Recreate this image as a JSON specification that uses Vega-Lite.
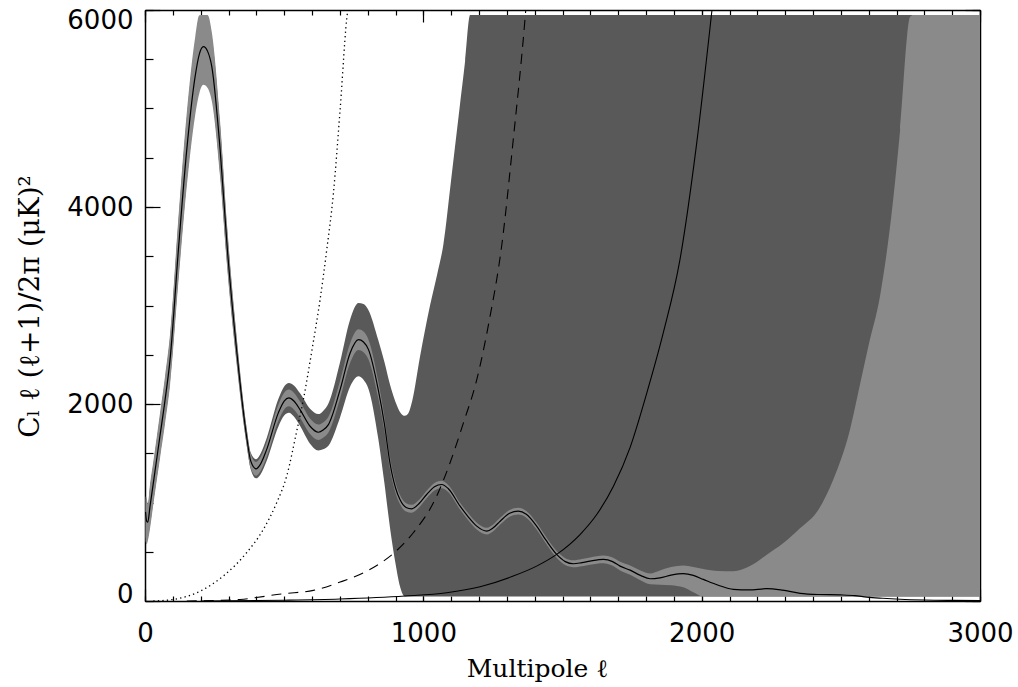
{
  "$schema": "https://vega.github.io/schema/vega-lite/v6.json",
  "autosize": {"type": "none"},
  "width": 835,
  "height": 591,
  "padding": {"left": 145, "top": 10, "right": 38, "bottom": 86},
  "background": "white",
  "config": {
    "view": {"stroke": null},
    "axis": {
      "grid": false,
      "domainColor": "black",
      "domainWidth": 1.5,
      "tickColor": "black",
      "tickWidth": 1.2,
      "labelFont": "DejaVu Sans",
      "labelFontSize": 26,
      "labelColor": "black",
      "labelFlush": false,
      "titleFont": "DejaVu Serif",
      "titleFontSize": 25,
      "titleFontWeight": "normal",
      "titleColor": "black"
    }
  },
  "datasets": {
    "cl": [
      {"l": 2, "c": 905}, {"l": 6, "c": 810}, {"l": 10, "c": 800}, {"l": 18, "c": 960},
      {"l": 30, "c": 1200}, {"l": 54, "c": 1680}, {"l": 72, "c": 2040}, {"l": 90, "c": 2450},
      {"l": 120, "c": 3566}, {"l": 150, "c": 4580}, {"l": 180, "c": 5323}, {"l": 195, "c": 5550},
      {"l": 210, "c": 5628}, {"l": 225, "c": 5580}, {"l": 240, "c": 5425}, {"l": 270, "c": 4580},
      {"l": 296, "c": 3566}, {"l": 329, "c": 2552}, {"l": 365, "c": 1672}, {"l": 380, "c": 1420},
      {"l": 399, "c": 1342}, {"l": 415, "c": 1390}, {"l": 437, "c": 1537}, {"l": 479, "c": 1910},
      {"l": 500, "c": 2030}, {"l": 517, "c": 2062}, {"l": 535, "c": 2030}, {"l": 557, "c": 1943},
      {"l": 593, "c": 1774}, {"l": 623, "c": 1713}, {"l": 640, "c": 1735}, {"l": 659, "c": 1791},
      {"l": 701, "c": 2146}, {"l": 737, "c": 2518}, {"l": 767, "c": 2653}, {"l": 785, "c": 2630},
      {"l": 803, "c": 2552}, {"l": 838, "c": 2146}, {"l": 860, "c": 1800}, {"l": 880, "c": 1403},
      {"l": 900, "c": 1150}, {"l": 916, "c": 1030}, {"l": 938, "c": 950}, {"l": 958, "c": 936},
      {"l": 985, "c": 990}, {"l": 1012, "c": 1081}, {"l": 1040, "c": 1160}, {"l": 1066, "c": 1183},
      {"l": 1090, "c": 1140}, {"l": 1132, "c": 963}, {"l": 1160, "c": 860}, {"l": 1192, "c": 760},
      {"l": 1228, "c": 709}, {"l": 1250, "c": 740}, {"l": 1276, "c": 810}, {"l": 1310, "c": 890},
      {"l": 1341, "c": 912}, {"l": 1370, "c": 880}, {"l": 1407, "c": 760}, {"l": 1440, "c": 620},
      {"l": 1479, "c": 473}, {"l": 1510, "c": 400}, {"l": 1539, "c": 378}, {"l": 1570, "c": 390},
      {"l": 1599, "c": 405}, {"l": 1647, "c": 422}, {"l": 1680, "c": 400}, {"l": 1707, "c": 354},
      {"l": 1743, "c": 313}, {"l": 1780, "c": 260}, {"l": 1815, "c": 226}, {"l": 1850, "c": 235},
      {"l": 1890, "c": 262}, {"l": 1934, "c": 277}, {"l": 1970, "c": 260}, {"l": 2006, "c": 219},
      {"l": 2060, "c": 160}, {"l": 2114, "c": 118}, {"l": 2170, "c": 112}, {"l": 2234, "c": 125},
      {"l": 2290, "c": 110}, {"l": 2354, "c": 78}, {"l": 2420, "c": 66}, {"l": 2497, "c": 62},
      {"l": 2550, "c": 55}, {"l": 2593, "c": 40}, {"l": 2650, "c": 28}, {"l": 2713, "c": 18},
      {"l": 2800, "c": 10}, {"l": 2900, "c": 6}, {"l": 3000, "c": 4}
    ],
    "light": [
      {"l": 2, "lo": 610, "hi": 1060}, {"l": 6, "lo": 575, "hi": 1045}, {"l": 10, "lo": 610, "hi": 990},
      {"l": 18, "lo": 736, "hi": 1184}, {"l": 30, "lo": 983, "hi": 1417}, {"l": 54, "lo": 1452, "hi": 1908},
      {"l": 72, "lo": 1801, "hi": 2279}, {"l": 90, "lo": 2193, "hi": 2707}, {"l": 120, "lo": 3241, "hi": 3891},
      {"l": 150, "lo": 4207, "hi": 4953}, {"l": 180, "lo": 4927, "hi": 5719}, {"l": 195, "lo": 5153, "hi": 5947},
      {"l": 210, "lo": 5240, "hi": 5950}, {"l": 225, "lo": 5208, "hi": 5950}, {"l": 240, "lo": 5075, "hi": 5775},
      {"l": 270, "lo": 4301, "hi": 4859}, {"l": 296, "lo": 3359, "hi": 3773}, {"l": 329, "lo": 2412, "hi": 2692},
      {"l": 365, "lo": 1585, "hi": 1759}, {"l": 380, "lo": 1347, "hi": 1493}, {"l": 399, "lo": 1272, "hi": 1412},
      {"l": 415, "lo": 1320, "hi": 1460}, {"l": 437, "lo": 1462, "hi": 1612}, {"l": 479, "lo": 1828, "hi": 1992},
      {"l": 500, "lo": 1945, "hi": 2115}, {"l": 517, "lo": 1977, "hi": 2147}, {"l": 535, "lo": 1945, "hi": 2115},
      {"l": 557, "lo": 1861, "hi": 2025}, {"l": 593, "lo": 1696, "hi": 1852}, {"l": 623, "lo": 1635, "hi": 1791},
      {"l": 640, "lo": 1657, "hi": 1813}, {"l": 659, "lo": 1711, "hi": 1871}, {"l": 701, "lo": 2056, "hi": 2236},
      {"l": 737, "lo": 2418, "hi": 2618}, {"l": 767, "lo": 2548, "hi": 2758}, {"l": 785, "lo": 2525, "hi": 2735},
      {"l": 803, "lo": 2452, "hi": 2652}, {"l": 838, "lo": 2061, "hi": 2231}, {"l": 860, "lo": 1730, "hi": 1870},
      {"l": 880, "lo": 1343, "hi": 1463}, {"l": 900, "lo": 1100, "hi": 1200}, {"l": 916, "lo": 985, "hi": 1075},
      {"l": 938, "lo": 908, "hi": 992}, {"l": 958, "lo": 896, "hi": 976}, {"l": 985, "lo": 952, "hi": 1028},
      {"l": 1012, "lo": 1043, "hi": 1119}, {"l": 1040, "lo": 1122, "hi": 1198}, {"l": 1066, "lo": 1145, "hi": 1221},
      {"l": 1090, "lo": 1104, "hi": 1176}, {"l": 1132, "lo": 928, "hi": 998}, {"l": 1160, "lo": 825, "hi": 895},
      {"l": 1192, "lo": 726, "hi": 794}, {"l": 1228, "lo": 675, "hi": 743}, {"l": 1250, "lo": 706, "hi": 774},
      {"l": 1276, "lo": 776, "hi": 844}, {"l": 1310, "lo": 856, "hi": 924}, {"l": 1341, "lo": 878, "hi": 946},
      {"l": 1370, "lo": 846, "hi": 914}, {"l": 1407, "lo": 726, "hi": 794}, {"l": 1440, "lo": 586, "hi": 654},
      {"l": 1479, "lo": 439, "hi": 507}, {"l": 1510, "lo": 365, "hi": 435}, {"l": 1539, "lo": 343, "hi": 413},
      {"l": 1570, "lo": 354, "hi": 426}, {"l": 1599, "lo": 368, "hi": 442}, {"l": 1647, "lo": 382, "hi": 462},
      {"l": 1680, "lo": 358, "hi": 442}, {"l": 1707, "lo": 310, "hi": 398}, {"l": 1743, "lo": 266, "hi": 360},
      {"l": 1780, "lo": 210, "hi": 310}, {"l": 1815, "lo": 170, "hi": 280}, {"l": 1850, "lo": 165, "hi": 310},
      {"l": 1890, "lo": 160, "hi": 345}, {"l": 1934, "lo": 140, "hi": 360}, {"l": 1970, "lo": 90, "hi": 345},
      {"l": 2006, "lo": 45, "hi": 325}, {"l": 2060, "lo": 45, "hi": 305}, {"l": 2114, "lo": 45, "hi": 303},
      {"l": 2170, "lo": 45, "hi": 350}, {"l": 2234, "lo": 45, "hi": 470}, {"l": 2290, "lo": 45, "hi": 580},
      {"l": 2354, "lo": 45, "hi": 740}, {"l": 2420, "lo": 45, "hi": 930}, {"l": 2473, "lo": 45, "hi": 1233},
      {"l": 2533, "lo": 45, "hi": 1740}, {"l": 2569, "lo": 45, "hi": 2200}, {"l": 2600, "lo": 45, "hi": 2600},
      {"l": 2641, "lo": 45, "hi": 3100}, {"l": 2688, "lo": 45, "hi": 4073}, {"l": 2713, "lo": 45, "hi": 4782},
      {"l": 2749, "lo": 45, "hi": 5932}, {"l": 2760, "lo": 45, "hi": 5950}, {"l": 3000, "lo": 45, "hi": 5950}
    ],
    "dark": [
      {"l": 2, "lo": 655, "hi": 1035}, {"l": 6, "lo": 610, "hi": 1020}, {"l": 10, "lo": 640, "hi": 965},
      {"l": 18, "lo": 770, "hi": 1150}, {"l": 30, "lo": 1015, "hi": 1385}, {"l": 54, "lo": 1486, "hi": 1874},
      {"l": 72, "lo": 1837, "hi": 2243}, {"l": 90, "lo": 2232, "hi": 2668}, {"l": 120, "lo": 3290, "hi": 3842},
      {"l": 150, "lo": 4263, "hi": 4897}, {"l": 180, "lo": 4986, "hi": 5660}, {"l": 195, "lo": 5213, "hi": 5887},
      {"l": 210, "lo": 5298, "hi": 5940}, {"l": 225, "lo": 5264, "hi": 5896}, {"l": 240, "lo": 5128, "hi": 5722},
      {"l": 270, "lo": 4343, "hi": 4817}, {"l": 296, "lo": 3390, "hi": 3742}, {"l": 329, "lo": 2433, "hi": 2671},
      {"l": 365, "lo": 1590, "hi": 1754}, {"l": 380, "lo": 1335, "hi": 1505}, {"l": 399, "lo": 1245, "hi": 1440},
      {"l": 415, "lo": 1285, "hi": 1495}, {"l": 437, "lo": 1422, "hi": 1652}, {"l": 479, "lo": 1770, "hi": 2050},
      {"l": 500, "lo": 1882, "hi": 2178}, {"l": 517, "lo": 1910, "hi": 2214}, {"l": 535, "lo": 1872, "hi": 2188},
      {"l": 557, "lo": 1778, "hi": 2108}, {"l": 593, "lo": 1596, "hi": 1952}, {"l": 623, "lo": 1528, "hi": 1898},
      {"l": 640, "lo": 1540, "hi": 1930}, {"l": 659, "lo": 1576, "hi": 2006}, {"l": 701, "lo": 1866, "hi": 2426},
      {"l": 737, "lo": 2178, "hi": 2858}, {"l": 767, "lo": 2281, "hi": 3025}, {"l": 785, "lo": 2245, "hi": 3015},
      {"l": 803, "lo": 2152, "hi": 2952}, {"l": 838, "lo": 1650, "hi": 2650}, {"l": 860, "lo": 1200, "hi": 2430},
      {"l": 880, "lo": 750, "hi": 2200}, {"l": 900, "lo": 380, "hi": 2020}, {"l": 916, "lo": 150, "hi": 1920},
      {"l": 934, "lo": 45, "hi": 1880}, {"l": 945, "lo": 45, "hi": 1900}, {"l": 960, "lo": 45, "hi": 2030},
      {"l": 988, "lo": 45, "hi": 2480}, {"l": 1024, "lo": 45, "hi": 3000}, {"l": 1050, "lo": 45, "hi": 3320},
      {"l": 1072, "lo": 45, "hi": 3620}, {"l": 1100, "lo": 45, "hi": 4280}, {"l": 1130, "lo": 45, "hi": 5000},
      {"l": 1150, "lo": 45, "hi": 5480}, {"l": 1168, "lo": 45, "hi": 5950}, {"l": 3000, "lo": 45, "hi": 5950}
    ],
    "dot": [
      {"l": 30, "n": 0}, {"l": 102, "n": 16}, {"l": 198, "n": 100}, {"l": 281, "n": 253},
      {"l": 365, "n": 490}, {"l": 425, "n": 726}, {"l": 473, "n": 997}, {"l": 509, "n": 1267},
      {"l": 545, "n": 1723}, {"l": 569, "n": 2045}, {"l": 600, "n": 2550}, {"l": 629, "n": 3059},
      {"l": 653, "n": 3566}, {"l": 677, "n": 4141}, {"l": 701, "n": 4986}, {"l": 728, "n": 5983},
      {"l": 729, "n": 6000}
    ],
    "dash": [
      {"l": 150, "n": 0}, {"l": 258, "n": 5}, {"l": 341, "n": 16}, {"l": 497, "n": 74},
      {"l": 605, "n": 108}, {"l": 701, "n": 192}, {"l": 797, "n": 303}, {"l": 844, "n": 380},
      {"l": 898, "n": 496}, {"l": 964, "n": 693}, {"l": 1042, "n": 1030}, {"l": 1096, "n": 1403},
      {"l": 1144, "n": 1808}, {"l": 1192, "n": 2247}, {"l": 1235, "n": 2820}, {"l": 1282, "n": 3617},
      {"l": 1323, "n": 4682}, {"l": 1365, "n": 5898}, {"l": 1368, "n": 6000}
    ],
    "sol": [
      {"l": 200, "n": 0}, {"l": 500, "n": 8}, {"l": 700, "n": 20}, {"l": 934, "n": 50},
      {"l": 1084, "n": 84}, {"l": 1204, "n": 145}, {"l": 1323, "n": 253}, {"l": 1407, "n": 354},
      {"l": 1479, "n": 473}, {"l": 1563, "n": 675}, {"l": 1623, "n": 878}, {"l": 1683, "n": 1165},
      {"l": 1743, "n": 1560}, {"l": 1803, "n": 2113}, {"l": 1862, "n": 2721}, {"l": 1922, "n": 3465},
      {"l": 1980, "n": 4600}, {"l": 2037, "n": 6000}
    ]
  },
  "resolve": {"axis": {"x": "independent", "y": "independent"}},
  "layer": [
    {
      "data": {"name": "dark"},
      "mark": {"type": "area", "color": "#595959", "interpolate": "monotone", "clip": true},
      "encoding": {
        "x": {"field": "l", "type": "quantitative",
          "scale": {"domain": [0, 3000], "nice": false, "zero": false},
          "axis": {"orient": "bottom", "values": [0, 1000, 2000, 3000], "format": "d", "ticks": false,
            "labelPadding": 19, "title": "Multipole ℓ", "titleX": 392, "titleY": 75,
            "titleBaseline": "alphabetic", "titleAlign": "center"}},
        "y": {"field": "lo", "type": "quantitative",
          "scale": {"domain": [0, 6000], "nice": false, "zero": false},
          "axis": {"orient": "left", "values": [0, 2000, 4000, 6000], "format": "d", "ticks": false,
            "labelPadding": 12,
            "labelOffset": {"condition": [{"test": "datum.value >= 6000", "value": 10}, {"test": "datum.value <= 0", "value": -7}], "value": 0},
            "title": "Cₗ ℓ (ℓ+1)/2π  (μK)²", "titleFontSize": 28, "titleX": -115, "titleY": 296,
            "titleAngle": 270, "titleAlign": "center", "titleBaseline": "middle"}},
        "y2": {"field": "hi"}
      }
    },
    {
      "data": {"name": "light"},
      "mark": {"type": "area", "color": "#8a8a8a", "interpolate": "monotone", "clip": true},
      "encoding": {
        "x": {"field": "l", "type": "quantitative",
          "scale": {"domain": [0, 3000], "nice": false, "zero": false},
          "axis": {"orient": "top", "values": [0, 1000, 2000, 3000], "ticks": false,
            "labels": false, "title": null}},
        "y": {"field": "lo", "type": "quantitative",
          "scale": {"domain": [0, 6000], "nice": false, "zero": false},
          "axis": {"orient": "right", "values": [0, 2000, 4000, 6000], "ticks": false,
            "labels": false, "title": null}},
        "y2": {"field": "hi"}
      }
    },
    {
      "data": {"name": "dot"},
      "mark": {"type": "line", "color": "black", "strokeWidth": 1.3, "strokeDash": [1.3, 3.2], "interpolate": "monotone", "clip": true},
      "encoding": {
        "x": {"field": "l", "type": "quantitative",
          "scale": {"domain": [0, 3000], "nice": false, "zero": false},
          "axis": {"orient": "bottom", "values": [0, 100, 200, 300, 400, 500, 600, 700, 800, 900, 1000, 1100, 1200, 1300, 1400, 1500, 1600, 1700, 1800, 1900, 2000, 2100, 2200, 2300, 2400, 2500, 2600, 2700, 2800, 2900, 3000],
            "offset": -5, "tickSize": 5, "labels": false, "domain": false, "title": null}},
        "y": {"field": "n", "type": "quantitative",
          "scale": {"domain": [0, 6000], "nice": false, "zero": false},
          "axis": {"orient": "left", "values": [0, 500, 1000, 1500, 2000, 2500, 3000, 3500, 4000, 4500, 5000, 5500, 6000],
            "offset": -8, "tickSize": 8, "labels": false, "domain": false, "title": null}}
      }
    },
    {
      "data": {"name": "dash"},
      "mark": {"type": "line", "color": "black", "strokeWidth": 1.1, "strokeDash": [10, 7], "interpolate": "monotone", "clip": true},
      "encoding": {
        "x": {"field": "l", "type": "quantitative",
          "scale": {"domain": [0, 3000], "nice": false, "zero": false},
          "axis": {"orient": "top", "values": [0, 100, 200, 300, 400, 500, 600, 700, 800, 900, 1000, 1100, 1200, 1300, 1400, 1500, 1600, 1700, 1800, 1900, 2000, 2100, 2200, 2300, 2400, 2500, 2600, 2700, 2800, 2900, 3000],
            "offset": -5, "tickSize": 5, "labels": false, "domain": false, "title": null}},
        "y": {"field": "n", "type": "quantitative",
          "scale": {"domain": [0, 6000], "nice": false, "zero": false},
          "axis": {"orient": "right", "values": [0, 500, 1000, 1500, 2000, 2500, 3000, 3500, 4000, 4500, 5000, 5500, 6000],
            "offset": -8, "tickSize": 8, "labels": false, "domain": false, "title": null}}
      }
    },
    {
      "data": {"name": "sol"},
      "mark": {"type": "line", "color": "black", "strokeWidth": 1.1, "interpolate": "monotone", "clip": true},
      "encoding": {
        "x": {"field": "l", "type": "quantitative", "scale": {"domain": [0, 3000], "nice": false, "zero": false},
          "axis": {"orient": "bottom", "values": [0, 1000, 2000, 3000], "offset": -12, "tickSize": 12, "labels": false, "domain": false, "title": null}},
        "y": {"field": "n", "type": "quantitative", "scale": {"domain": [0, 6000], "nice": false, "zero": false},
          "axis": {"orient": "left", "values": [0, 2000, 4000, 6000], "offset": -15, "tickSize": 15, "labels": false, "domain": false, "title": null}}
      }
    },
    {
      "data": {"name": "cl"},
      "mark": {"type": "line", "color": "black", "strokeWidth": 1.2, "interpolate": "monotone", "clip": true},
      "encoding": {
        "x": {"field": "l", "type": "quantitative", "scale": {"domain": [0, 3000], "nice": false, "zero": false},
          "axis": {"orient": "top", "values": [0, 1000, 2000, 3000], "offset": -12, "tickSize": 12, "labels": false, "domain": false, "title": null}},
        "y": {"field": "c", "type": "quantitative", "scale": {"domain": [0, 6000], "nice": false, "zero": false},
          "axis": {"orient": "right", "values": [0, 2000, 4000, 6000], "offset": -15, "tickSize": 15, "labels": false, "domain": false, "title": null}}
      }
    }
  ]
}
